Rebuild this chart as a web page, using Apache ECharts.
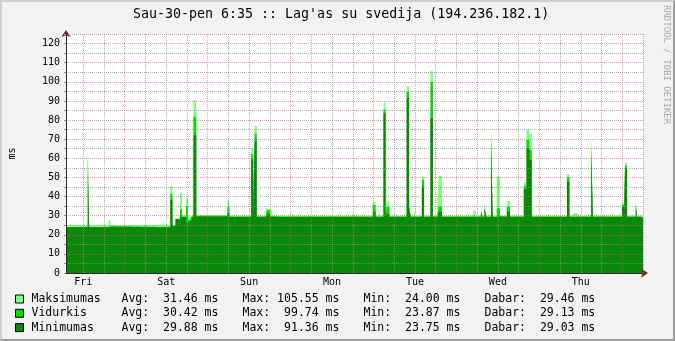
<!DOCTYPE html>
<html>
<head>
<meta charset="utf-8">
<script src="https://cdn.jsdelivr.net/npm/echarts@6/dist/echarts.min.js"></script>
<style>
  html, body { margin: 0; padding: 0; background: #f2f2f2; }
  #wrap { position: relative; width: 675px; height: 341px; }
  #chart { position: absolute; left: 0; top: 0; width: 675px; height: 341px; }
  #frame { position: absolute; left: 0; top: 0; width: 675px; height: 341px; box-sizing: border-box;
    border-style: solid; border-width: 2px; border-color: #cfcfcf #9e9e9e #9e9e9e #cfcfcf; pointer-events: none; }
</style>
</head>
<body>
<div id="wrap"><div id="chart"></div><div id="frame"></div></div>
<script>
// hours counted from Friday 00:00; each value holds until the next hour mark
const hours = [7.0, 13.3, 13.7, 19.3, 19.9, 35.0, 35.5, 37.2, 37.8, 38.7,
  40.0, 40.6, 41.7, 42.3, 43.3, 43.9, 44.7, 45.3, 45.7, 46.4,
  46.8, 53.7, 54.3, 60.6, 61.2, 61.6, 62.2, 64.8, 65.2, 66.0,
  66.7, 69.7, 70.0, 72.6, 72.9, 74.6, 74.9, 80.4, 80.7, 86.2,
  86.5, 89.7, 90.0, 94.4, 94.7, 95.8, 96.6, 97.5, 97.9, 98.9,
  99.5, 99.8, 100.6, 105.6, 106.3, 106.8, 107.7, 108.0, 110.0, 110.6,
  112.5, 113.2, 114.5, 114.9, 115.8, 119.6, 119.9, 124.8, 125.6, 127.1,
  127.5, 128.1, 128.6, 130.0, 130.5, 131.7, 132.6, 134.6, 135.5, 139.5,
  140.3, 141.1, 141.8, 146.5, 146.8, 148.9, 149.2, 152.0, 152.7, 153.7,
  155.2, 156.6, 156.9, 159.0, 159.5, 162.4, 162.7, 165.0, 165.3, 167.0,
  167.3, 167.9, 168.5, 168.8, 169.4, 171.9, 172.3, 173.4, 174.0];

const maxMs = [25.0, 69.9, 25.0, 27.3, 25.0, 26.9, 25.0, 45.2, 25.2, 28.6,
  42.0, 30.2, 39.1, 29.5, 30.2, 90.3, 30.3, 31.0, 30.3, 31.0,
  30.3, 37.9, 30.0, 65.2, 30.0, 77.0, 30.0, 35.6, 33.5, 33.0,
  29.9, 31.3, 29.9, 31.0, 29.9, 30.9, 29.9, 30.5, 29.9, 31.3,
  29.9, 32.5, 29.9, 30.9, 29.9, 37.3, 29.9, 33.5, 29.9, 89.0,
  29.9, 37.4, 29.9, 97.7, 37.4, 29.9, 36.5, 29.9, 50.1, 29.9,
  105.55, 29.9, 37.8, 50.8, 29.9, 30.4, 29.9, 32.7, 29.9, 33.9,
  29.9, 36.5, 29.9, 79.1, 29.9, 50.4, 29.9, 37.7, 29.9, 47.3,
  74.8, 73.0, 29.9, 31.3, 29.9, 30.4, 29.9, 51.8, 29.9, 31.3,
  29.9, 30.4, 29.9, 74.2, 29.9, 31.3, 29.9, 31.3, 29.9, 32.1,
  29.9, 36.5, 29.9, 57.7, 29.9, 38.2, 29.9, 29.46, 29.46];

const avgMs = [24.1, 62.9, 24.1, 24.6, 24.1, 24.5, 24.1, 41.4, 24.8, 28.3,
  33.4, 29.6, 35.0, 27.8, 29.6, 81.7, 29.8, 29.8, 29.8, 29.8,
  29.8, 34.7, 29.5, 62.2, 29.5, 73.0, 29.5, 30.0, 33.0, 29.8,
  29.5, 29.5, 29.5, 29.5, 29.5, 29.5, 29.5, 29.5, 29.5, 29.5,
  29.5, 29.5, 29.5, 29.5, 29.5, 35.5, 29.5, 29.5, 29.5, 85.5,
  29.5, 34.6, 29.5, 94.6, 34.5, 29.5, 29.5, 29.5, 48.7, 29.5,
  99.74, 29.5, 31.5, 34.7, 29.5, 29.5, 29.5, 29.5, 29.5, 33.0,
  29.5, 34.7, 29.5, 73.9, 29.5, 33.9, 29.5, 34.7, 29.5, 45.5,
  69.5, 64.3, 29.5, 29.5, 29.5, 29.5, 29.5, 50.1, 29.5, 29.5,
  29.5, 29.5, 29.5, 69.0, 29.5, 29.5, 29.5, 29.5, 29.5, 29.5,
  29.5, 35.6, 29.5, 56.0, 29.5, 35.9, 29.5, 29.13, 29.13];

const minMs = [23.9, 53.5, 23.9, 24.0, 23.9, 24.0, 23.9, 38.2, 24.4, 28.1,
  29.3, 29.3, 26.5, 27.3, 29.3, 72.0, 29.5, 29.5, 29.5, 29.5,
  29.5, 31.3, 29.3, 59.5, 29.3, 69.0, 29.3, 29.3, 31.0, 29.3,
  29.3, 29.3, 29.3, 29.3, 29.3, 29.3, 29.3, 29.3, 29.3, 29.3,
  29.3, 29.3, 29.3, 29.3, 29.3, 32.1, 29.3, 29.3, 29.3, 83.5,
  29.3, 31.0, 29.3, 91.36, 33.0, 29.3, 29.3, 29.3, 45.2, 29.3,
  80.9, 29.3, 29.3, 32.0, 29.3, 29.3, 29.3, 29.3, 29.3, 32.0,
  29.3, 34.0, 29.3, 68.7, 29.3, 29.5, 29.3, 32.1, 29.3, 43.8,
  65.2, 59.1, 29.3, 29.3, 29.3, 29.3, 29.3, 47.8, 29.3, 29.3,
  29.3, 29.3, 29.3, 62.6, 29.3, 29.3, 29.3, 29.3, 29.3, 29.3,
  29.3, 34.4, 29.3, 54.8, 29.3, 34.7, 29.3, 29.03, 29.03];

const dayNames = ['Fri', 'Sat', 'Sun', 'Mon', 'Tue', 'Wed', 'Thu'];
const seriesNames = ['Maksimumas', 'Vidurkis', 'Minimumas'];
const statAvg = [31.46, 30.42, 29.88];
const statMax = [105.55, 99.74, 91.36];
const statMin = [24.00, 23.87, 23.75];
const statNow = [29.46, 29.13, 29.03];

const X_MIN = 7, X_MAX = 174;
const MONO = 'DejaVu Sans Mono';
const gridGray = 'rgba(143,143,143,0.75)';
const gridRed = 'rgba(222,80,80,0.6)';
const clear = 'rgba(0,0,0,0)';
const colors = ['#80ff80', '#00dd00', '#0a880a'];

// vertical grid: gray every 6h, red at midnight (ticks every hour)
const vColors = [];
for (let i = 0; i < 24; i++) {
  const h = X_MIN + i;
  vColors.push(h % 24 === 0 ? gridRed : (h % 6 === 0 ? gridGray : clear));
}

const pad = v => v.toFixed(2).padStart(6, ' ');
const toPairs = vals => hours.map((h, i) => [h, vals[i]]);

function areaSeries(i, vals) {
  return {
    name: seriesNames[i], type: 'line', step: 'end', data: toPairs(vals),
    symbol: 'none', color: colors[i], silent: true, z: 2,
    lineStyle: { width: 0 },
    areaStyle: { color: colors[i], opacity: 1 }
  };
}

const richCell = w => ({ fontFamily: MONO, fontSize: 11.5, color: '#000', width: w, lineHeight: 14 });

let chart = echarts.init(document.getElementById('chart'));
chart.setOption({
  animation: false,
  backgroundColor: 'transparent',
  title: {
    text: "Sau-30-pen 6:35 :: Lag'as su svedija (194.236.182.1)",
    left: 133, top: 8, padding: 0,
    textStyle: { fontFamily: MONO, fontSize: 13.3, fontWeight: 'normal', color: '#000' }
  },
  grid: { left: 66, right: 32, top: 34, bottom: 68, show: true, backgroundColor: '#fff', borderWidth: 0,
    containLabel: false, outerBoundsMode: 'none' },
  xAxis: [{
    type: 'value', min: X_MIN, max: X_MAX, interval: 1, z: 4,
    axisLine: { show: true, onZero: false, lineStyle: { color: '#2a2a2a', width: 1 } },
    axisTick: { show: false },
    axisLabel: {
      margin: 4, fontFamily: MONO, fontSize: 10, color: '#000',
      formatter: v => (v % 24 === 12 ? dayNames[Math.floor(v / 24)] : '')
    },
    splitLine: { show: true, showMinLine: true, showMaxLine: true, lineStyle: { color: vColors, type: [1, 1], width: 1 } }
  }, {
    type: 'value', min: X_MIN, max: X_MAX, position: 'bottom', offset: 0, z: 3,
    axisLine: { show: true, onZero: false, symbol: ['none', 'arrow'], symbolSize: [7, 7], symbolOffset: [0, 5],
      lineStyle: { color: '#801f1f', width: 1 } },
    axisTick: { show: false }, axisLabel: { show: false }, splitLine: { show: false }
  }],
  yAxis: [{
    type: 'value', min: 0, max: 125, interval: 5, z: 4,
    name: 'ms', nameLocation: 'middle', nameGap: 49, nameRotate: 90,
    nameTextStyle: { fontFamily: MONO, fontSize: 10, color: '#000' },
    axisLine: { show: true, onZero: false, lineStyle: { color: '#2a2a2a', width: 1 } },
    axisTick: { show: true, length: 2, lineStyle: { color: '#8f8f8f' } },
    axisLabel: {
      margin: 6, fontFamily: MONO, fontSize: 10, color: '#000',
      formatter: v => (v % 10 === 0 ? String(v) : '')
    },
    splitLine: { show: true, showMinLine: true, showMaxLine: true, lineStyle: { color: [gridRed, gridGray], type: [1, 1], width: 1 } }
  }, {
    type: 'value', min: 0, max: 125, position: 'left', offset: 0, z: 3,
    axisLine: { show: true, onZero: false, symbol: ['none', 'arrow'], symbolSize: [7, 7], symbolOffset: [0, 4],
      lineStyle: { color: '#801f1f', width: 1 } },
    axisTick: { show: false }, axisLabel: { show: false }, splitLine: { show: false }
  }],
  legend: {
    orient: 'vertical', left: 15, top: 292, padding: 0, itemGap: 0.3,
    itemWidth: 8, itemHeight: 8, icon: 'rect', selectedMode: false,
    itemStyle: { borderColor: '#000', borderWidth: 1 },
    data: seriesNames,
    textStyle: {
      fontFamily: MONO, fontSize: 11.5, color: '#000', lineHeight: 14,
      rich: {
        n: Object.assign(richCell(90), { padding: [0, 0, 0, 3] }),
        a: richCell(121), b: richCell(121), c: richCell(121), d: richCell(null)
      }
    },
    formatter: name => {
      const i = seriesNames.indexOf(name);
      return '{n|' + name + '}{a|Avg: ' + pad(statAvg[i]) + ' ms}{b|Max: ' + pad(statMax[i]) +
        ' ms}{c|Min: ' + pad(statMin[i]) + ' ms}{d|Dabar: ' + pad(statNow[i]) + ' ms}';
    }
  },
  graphic: [{
    type: 'text', x: 666, y: 5, rotation: -Math.PI / 2, silent: true,
    style: { text: 'RRDTOOL / TOBI OETIKER', fill: '#a8a8a8', font: '9px "DejaVu Sans Mono"',
      textAlign: 'left', textVerticalAlign: 'middle' }
  }],
  series: [areaSeries(0, maxMs), areaSeries(1, avgMs), areaSeries(2, minMs)]
});
window.addEventListener('resize', () => chart.resize());
</script>
</body>
</html>
